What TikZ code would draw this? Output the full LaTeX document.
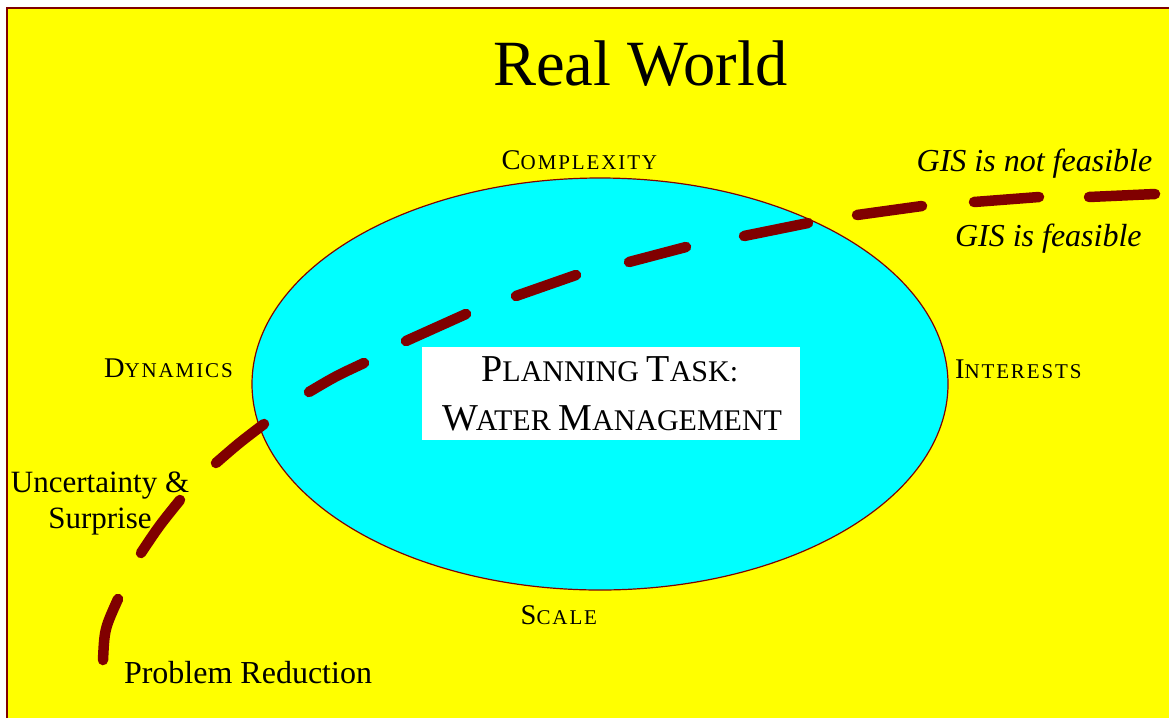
\documentclass[tikz,border=0pt]{standalone}
\usepackage{fontspec}
\usetikzlibrary{shapes.geometric}
\setmainfont{Liberation Serif}
\newfontfamily\scsp[LetterSpace=9]{Liberation Serif}
\definecolor{bgyellow}{HTML}{FFFF00}
\definecolor{elcyan}{HTML}{00FFFF}
\definecolor{dred}{HTML}{800000}
% label small caps: big first letter, small spaced rest
\newcommand\lblsc[2]{{\fontsize{28.5}{30}\selectfont #1}{\scsp\fontsize{21}{22}\selectfont #2}}
% centre small caps
\newcommand\ctrsc[2]{{\fontsize{38}{40}\selectfont #1}{\fontsize{30}{32}\selectfont #2}}
\tikzset{
  lbl/.style={anchor=base west, inner sep=0pt, outer sep=0pt, text=black},
  clbl/.style={anchor=base, inner sep=0pt, outer sep=0pt, text=black},
  dashstroke/.style={draw=dred, line width=10.5, line cap=round},
}
\begin{document}
\begin{tikzpicture}[x=1pt, y=-1pt]
\useasboundingbox (0,0) rectangle (1169,718);
\fill[white] (0,0) rectangle (1169,718);
\fill[bgyellow] (7,7.5) rectangle (1169,718);
\draw[dred, line width=2] (7,718) -- (7,7.5) -- (1169,7.5);

% ellipse
\node[ellipse, draw=dred, line width=1.2, fill=elcyan, minimum width=696, minimum height=412, inner sep=0pt] (task) at (600,384) {};

% centre box
\node[fill=white, minimum width=378.3, minimum height=92.7, inner sep=0pt] (box) at (610.8,393.7) {};
\node[clbl] (t1) at (609.7,381.7) {\ctrsc{P}{LANNING }\ctrsc{T}{ASK:}};
\node[clbl] (t2) at (612.5,430) {\ctrsc{W}{\kern-3pt ATER }\ctrsc{M}{ANAGEMENT}};

% title
\node[lbl] (title) at (493.3,85) {\fontsize{64.5}{66}\selectfont Real World};

% ellipse labels
\node[lbl] (cplx) at (501.7,169.3) {\lblsc{C}{OMPLEXITY}};
\node[lbl] (dyn) at (104,377.7) {\lblsc{D}{YNAMICS}};
\node[lbl] (intr) at (955,378.3) {\lblsc{I}{NTERESTS}};
\node[lbl] (scale) at (520.7,624.3) {\lblsc{S}{CALE}};

% other labels
\node[clbl] (unc) at (100,492.7) {\fontsize{31}{33}\selectfont Uncertainty \&};
\node[clbl] (sur) at (100,528.3) {\fontsize{31}{33}\selectfont Surprise};
\node[lbl] (prob) at (124,683.3) {\fontsize{32}{34}\selectfont Problem Reduction};
\node[lbl] (gisn) at (916.7,171.7) {\fontsize{32}{34}\selectfont\itshape GIS is not feasible};
\node[lbl] (gisf) at (955,246.7) {\fontsize{32}{34}\selectfont\itshape GIS is feasible};

% dashed boundary curve
\draw[dashstroke] (103,660) .. controls (104.5,629) .. (118,599);
\draw[dashstroke] (141,553) .. controls (159,526) .. (180,500);
\draw[dashstroke] (216,463) .. controls (239,443) .. (264,424);
\draw[dashstroke] (309,392) .. controls (336,376) .. (364,363);
\draw[dashstroke] (406,341) .. controls (436,327) .. (466,314);
\draw[dashstroke] (516,296) .. controls (546,285) .. (576,275);
\draw[dashstroke] (629,262) .. controls (657,254) .. (686,247);
\draw[dashstroke] (744,236) .. controls (776,229) .. (808,223);
\draw[dashstroke] (857,215) .. controls (890,210) .. (922,206);
\draw[dashstroke] (974,202) .. controls (1006,199) .. (1039,197);
\draw[dashstroke] (1089,197) .. controls (1122,195) .. (1155,194);
\end{tikzpicture}
\end{document}
